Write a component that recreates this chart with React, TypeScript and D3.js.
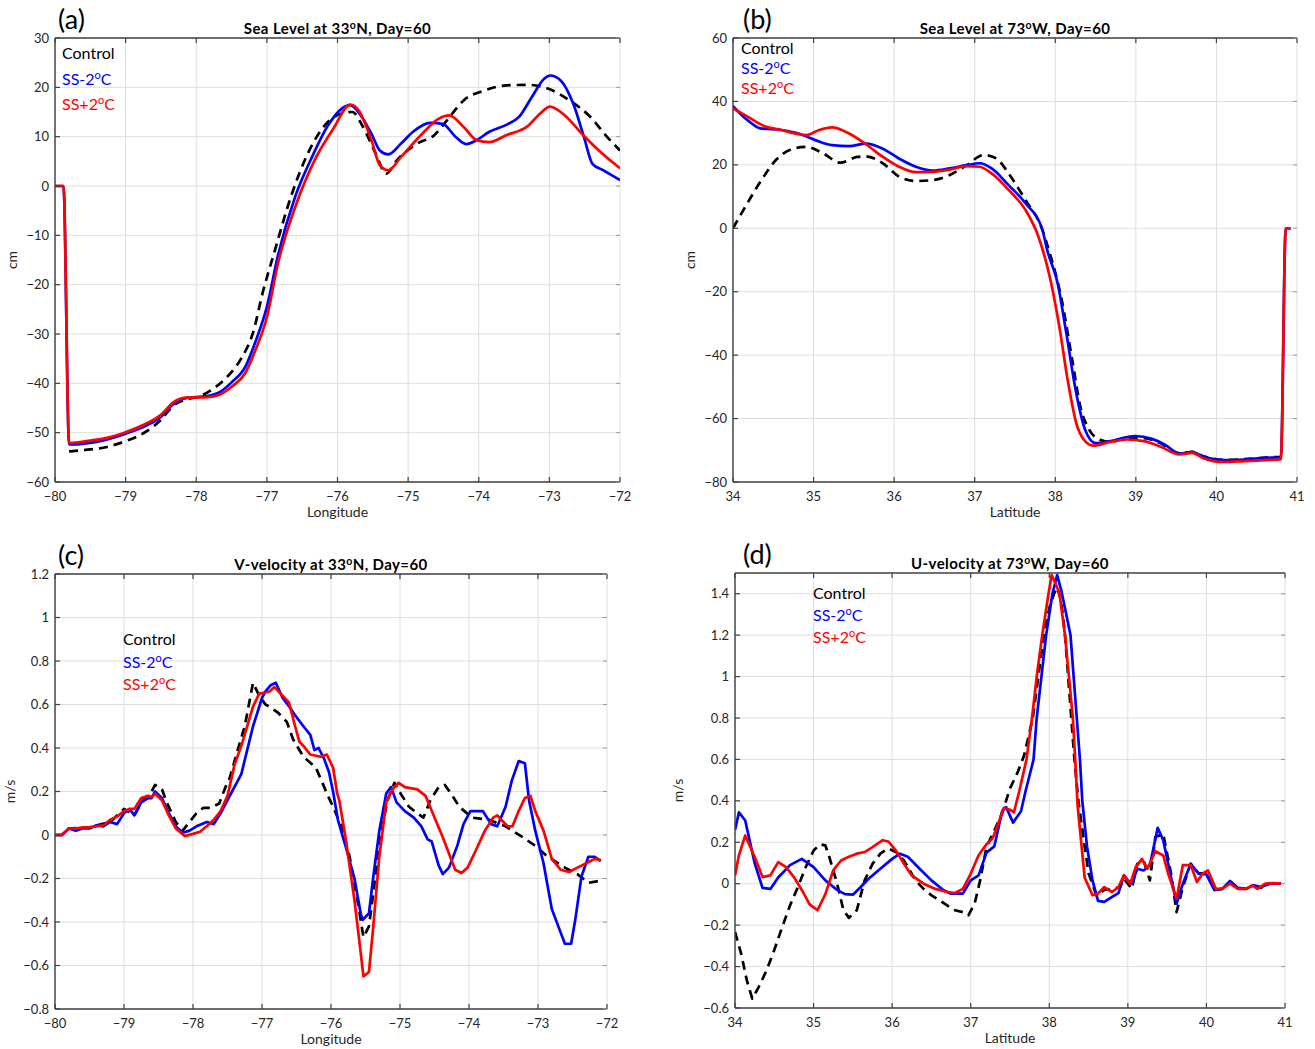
import React, { useRef, useEffect } from "react";
import * as d3 from "d3";

type Pt = [number, number];

// (a) sea level along 33N, x = longitude, y = cm
const seaLonControl: Pt[] = [
  [-79.8, -53.8], [-79.5, -53.4], [-79.3, -53], [-79.0, -51.7], [-78.7, -49.7], [-78.5, -47.4],
  [-78.33, -44.6], [-78.15, -43.3], [-77.95, -42.6], [-77.75, -41], [-77.55, -38.5], [-77.36, -34.9],
  [-77.2, -29.9], [-77.05, -21.1], [-76.9, -13.7], [-76.66, -2.2], [-76.42, 6.6], [-76.18, 12.3],
  [-75.94, 14.7], [-75.79, 15], [-75.64, 12], [-75.46, 6.6], [-75.31, 2.5], [-75.16, 5.2],
  [-74.87, 8.6], [-74.63, 10.3], [-74.45, 13.3], [-74.21, 17.4], [-73.91, 19.4], [-73.61, 20.4],
  [-73.31, 20.5], [-73.01, 19.7], [-72.72, 17.4], [-72.42, 14], [-72.18, 9.9], [-72.0, 7.2],
];
const seaLonMinus: Pt[] = [
  [-80, 0], [-79.88, 0], [-79.8, -52.4], [-79.3, -51.5], [-79.0, -50.2], [-78.7, -48.5],
  [-78.5, -46.8], [-78.33, -44.3], [-78.15, -43.0], [-77.85, -42.6], [-77.67, -41.8], [-77.5, -39.8],
  [-77.3, -36.5], [-77.16, -31.5], [-77.0, -24.5], [-76.84, -13.9], [-76.6, -2.2], [-76.36, 5.9],
  [-76.12, 12.6], [-75.94, 15.7], [-75.82, 16.4], [-75.67, 14.3], [-75.52, 10.6], [-75.4, 7.2],
  [-75.28, 6.4], [-75.1, 8.6], [-74.93, 11], [-74.69, 12.8], [-74.51, 12.6], [-74.33, 10],
  [-74.18, 8.5], [-74.03, 9.3], [-73.85, 11], [-73.61, 12.4], [-73.43, 14], [-73.25, 18],
  [-73.07, 21.8], [-72.99, 22.4], [-72.84, 21.4], [-72.66, 16.6], [-72.51, 9.9], [-72.39, 4.5],
  [-72.24, 3.2], [-72.0, 1.2],
];
const seaLonPlus: Pt[] = [
  [-80, 0], [-79.88, 0], [-79.8, -52.1], [-79.5, -51.6], [-79.28, -51.1], [-79.0, -49.9],
  [-78.7, -48.1], [-78.5, -46.4], [-78.33, -43.9], [-78.15, -42.9], [-77.85, -42.8], [-77.67, -42.3],
  [-77.49, -40.6], [-77.31, -38], [-77.16, -33.2], [-77.0, -26.6], [-76.84, -15.5], [-76.6, -4.3],
  [-76.3, 5.9], [-76.06, 11.6], [-75.82, 16.5], [-75.7, 15.3], [-75.52, 9.3], [-75.4, 4.2],
  [-75.28, 3.2], [-75.1, 5.9], [-74.8, 10.6], [-74.57, 13.6], [-74.42, 14.3], [-74.21, 11.9],
  [-74.03, 9.3], [-73.85, 8.9], [-73.61, 10.3], [-73.31, 12.1], [-73.13, 14.7], [-72.99, 16.1],
  [-72.78, 14.3], [-72.54, 10.6], [-72.3, 7.2], [-72.0, 3.6],
];

// (b) sea level along 73W, x = latitude, y = cm
const seaLatControl: Pt[] = [
  [34.0, 0], [34.13, 5.8], [34.34, 14.7], [34.55, 22], [34.76, 25.2], [34.91, 25.7], [35.12, 23.6],
  [35.33, 20.7], [35.54, 22.5], [35.65, 22.7], [35.86, 20.5], [36.06, 16.3], [36.27, 14.9],
  [36.48, 15.2], [36.69, 16.8], [36.9, 19.9], [37.11, 23.1], [37.27, 22], [37.42, 17.3], [37.63, 8.9],
  [37.84, -0.5], [37.92, -6.9], [38.08, -22.6], [38.21, -41.5], [38.31, -56.1], [38.42, -63.5],
  [38.55, -66.6], [38.68, -67.4], [38.89, -66.1], [39.1, -66.2], [39.31, -67.8], [39.54, -70.9],
  [39.7, -70.5], [39.83, -71.8], [40.09, -73.0], [40.35, -72.8], [40.61, -72.3], [40.8, -72.1],
];
const seaLatMinus: Pt[] = [
  [34.0, 38.5], [34.18, 34.1], [34.34, 31.5], [34.6, 31], [34.81, 29.9], [35.02, 27.8], [35.23, 26.2],
  [35.44, 25.9], [35.65, 26.7], [35.86, 25.1], [36.06, 22], [36.27, 19.4], [36.48, 18.2], [36.69, 18.9],
  [36.9, 19.9], [37.06, 20.5], [37.21, 18.9], [37.42, 13.6], [37.63, 7.9], [37.84, -0.5], [37.9, -6.9],
  [38.03, -17.4], [38.13, -32], [38.26, -52], [38.37, -63.5], [38.5, -67.7], [38.68, -67.1],
  [38.99, -65.5], [39.2, -66.4], [39.36, -68.2], [39.54, -71], [39.7, -70.6], [39.83, -71.9],
  [40.09, -73.1], [40.35, -72.9], [40.61, -72.4], [40.8, -72.2], [40.86, 0], [40.92, 0],
];
const seaLatPlus: Pt[] = [
  [34.0, 37.8], [34.18, 35.2], [34.39, 32.2], [34.6, 31], [34.81, 29.7], [34.91, 29.4], [35.07, 31],
  [35.23, 31.8], [35.44, 29.9], [35.65, 26.5], [35.86, 22.5], [36.06, 19.4], [36.27, 17.7], [36.48, 17.8],
  [36.69, 18.5], [36.9, 19.6], [37.06, 19.4], [37.21, 17.3], [37.42, 12.1], [37.63, 5.8], [37.79, -2.6],
  [37.95, -17.4], [38.05, -31], [38.16, -48.8], [38.26, -61.4], [38.37, -67.1], [38.47, -68.5],
  [38.68, -67.4], [38.89, -66.6], [39.1, -67.1], [39.31, -68.9], [39.54, -71.3], [39.7, -70.8],
  [39.83, -72.4], [40.09, -73.7], [40.35, -73.4], [40.61, -73.1], [40.8, -72.9], [40.86, 0], [40.92, 0],
];

// (c) V-velocity along 33N, m/s
const vLonControl: Pt[] = [
  [-80, 0], [-79.9, 0], [-79.8, 0.03], [-79.5, 0.035], [-79.2, 0.06], [-79.0, 0.12], [-78.85, 0.09],
  [-78.75, 0.15], [-78.6, 0.2], [-78.55, 0.23], [-78.45, 0.21], [-78.38, 0.15], [-78.25, 0.06],
  [-78.15, 0.02], [-78.05, 0.06], [-77.95, 0.1], [-77.85, 0.125], [-77.75, 0.125], [-77.62, 0.145],
  [-77.53, 0.22], [-77.47, 0.26], [-77.38, 0.36], [-77.25, 0.5], [-77.13, 0.7], [-77.04, 0.64],
  [-76.95, 0.6], [-76.89, 0.59], [-76.76, 0.56], [-76.64, 0.52], [-76.55, 0.44], [-76.4, 0.36],
  [-76.22, 0.31], [-76.03, 0.17], [-75.97, 0.13], [-75.85, 0.04], [-75.73, -0.1], [-75.6, -0.33],
  [-75.53, -0.47], [-75.45, -0.42], [-75.36, -0.2], [-75.27, 0.02], [-75.18, 0.16], [-75.08, 0.24],
  [-74.99, 0.19], [-74.87, 0.13], [-74.75, 0.1], [-74.66, 0.08], [-74.56, 0.16], [-74.44, 0.22],
  [-74.35, 0.23], [-74.26, 0.19], [-74.14, 0.13], [-73.96, 0.08], [-73.71, 0.07], [-73.47, 0.04],
  [-73.22, -0.01], [-73.04, -0.05], [-72.86, -0.1], [-72.61, -0.15], [-72.43, -0.18], [-72.27, -0.22],
  [-72.09, -0.21],
];
const vLonMinus: Pt[] = [
  [-80, 0], [-79.9, 0], [-79.8, 0.03], [-79.7, 0.02], [-79.6, 0.03], [-79.5, 0.03], [-79.4, 0.045],
  [-79.3, 0.04], [-79.2, 0.06], [-79.1, 0.05], [-79.0, 0.1], [-78.92, 0.12], [-78.85, 0.09],
  [-78.75, 0.15], [-78.65, 0.17], [-78.6, 0.17], [-78.55, 0.2], [-78.45, 0.17], [-78.35, 0.1],
  [-78.25, 0.04], [-78.15, 0.01], [-78.05, 0.02], [-77.95, 0.04], [-77.8, 0.06], [-77.7, 0.05],
  [-77.6, 0.1], [-77.5, 0.16], [-77.3, 0.28], [-77.13, 0.5], [-77.0, 0.63], [-76.95, 0.66],
  [-76.87, 0.69], [-76.8, 0.7], [-76.7, 0.63], [-76.58, 0.58], [-76.52, 0.55], [-76.4, 0.5],
  [-76.3, 0.46], [-76.24, 0.39], [-76.18, 0.4], [-76.1, 0.35], [-76.03, 0.29], [-75.97, 0.2],
  [-75.9, 0.07], [-75.79, -0.05], [-75.66, -0.2], [-75.57, -0.36], [-75.54, -0.39], [-75.45, -0.36],
  [-75.39, -0.2], [-75.3, 0.02], [-75.2, 0.19], [-75.13, 0.22], [-75.05, 0.15], [-74.93, 0.11],
  [-74.8, 0.08], [-74.69, 0.04], [-74.6, -0.02], [-74.54, -0.03], [-74.44, -0.14], [-74.38, -0.18],
  [-74.29, -0.15], [-74.17, -0.05], [-74.08, 0.05], [-73.98, 0.11], [-73.8, 0.11], [-73.68, 0.05],
  [-73.59, 0.04], [-73.47, 0.13], [-73.38, 0.25], [-73.28, 0.34], [-73.19, 0.33], [-73.13, 0.16],
  [-73.04, 0.02], [-72.92, -0.13], [-72.8, -0.34], [-72.67, -0.45], [-72.61, -0.5], [-72.52, -0.5],
  [-72.46, -0.39], [-72.37, -0.19], [-72.27, -0.1], [-72.18, -0.1], [-72.09, -0.12],
];
const vLonPlus: Pt[] = [
  [-80, 0], [-79.9, 0], [-79.8, 0.03], [-79.7, 0.03], [-79.6, 0.035], [-79.5, 0.035], [-79.4, 0.04],
  [-79.3, 0.045], [-79.2, 0.07], [-79.1, 0.085], [-79.0, 0.11], [-78.9, 0.12], [-78.85, 0.12],
  [-78.75, 0.17], [-78.65, 0.18], [-78.6, 0.175], [-78.55, 0.19], [-78.45, 0.16], [-78.35, 0.09],
  [-78.25, 0.03], [-78.12, -0.005], [-78.0, 0.005], [-77.9, 0.015], [-77.8, 0.04], [-77.7, 0.07],
  [-77.6, 0.11], [-77.5, 0.18], [-77.4, 0.32], [-77.28, 0.43], [-77.13, 0.59], [-77.04, 0.65],
  [-76.95, 0.655], [-76.89, 0.66], [-76.82, 0.68], [-76.73, 0.65], [-76.61, 0.61], [-76.52, 0.5],
  [-76.46, 0.43], [-76.4, 0.41], [-76.3, 0.37], [-76.15, 0.36], [-76.06, 0.37], [-75.97, 0.31],
  [-75.91, 0.19], [-75.88, 0.16], [-75.79, -0.01], [-75.66, -0.3], [-75.57, -0.54], [-75.53, -0.65],
  [-75.45, -0.63], [-75.39, -0.43], [-75.3, -0.1], [-75.2, 0.15], [-75.11, 0.21], [-75.02, 0.24],
  [-74.93, 0.22], [-74.75, 0.21], [-74.63, 0.18], [-74.5, 0.08], [-74.38, -0.01], [-74.26, -0.11],
  [-74.2, -0.16], [-74.11, -0.175], [-74.02, -0.15], [-73.9, -0.07], [-73.77, 0.02], [-73.65, 0.08],
  [-73.59, 0.09], [-73.5, 0.06], [-73.44, 0.04], [-73.37, 0.04], [-73.28, 0.11], [-73.19, 0.17],
  [-73.11, 0.18], [-73.04, 0.11], [-72.92, 0.02], [-72.8, -0.11], [-72.67, -0.16], [-72.55, -0.17],
  [-72.43, -0.15], [-72.3, -0.13], [-72.18, -0.11], [-72.09, -0.115],
];

// (d) U-velocity along 73W, m/s
const uLatControl: Pt[] = [
  [34.0, -0.233], [34.08, -0.34], [34.15, -0.466], [34.22, -0.555], [34.3, -0.5], [34.4, -0.42],
  [34.5, -0.32], [34.6, -0.21], [34.7, -0.105], [34.8, -0.016], [34.9, 0.08], [35.0, 0.16],
  [35.08, 0.19], [35.15, 0.185], [35.2, 0.13], [35.3, 0], [35.38, -0.128], [35.45, -0.165],
  [35.55, -0.128], [35.65, 0.016], [35.75, 0.096], [35.85, 0.145], [35.95, 0.17], [36.05, 0.153],
  [36.15, 0.112], [36.3, 0.016], [36.4, -0.025], [36.5, -0.056], [36.6, -0.08], [36.7, -0.105],
  [36.8, -0.128], [36.9, -0.137], [36.97, -0.153], [37.05, -0.096], [37.12, 0.016], [37.2, 0.177],
  [37.3, 0.257], [37.4, 0.34], [37.5, 0.46], [37.6, 0.54], [37.68, 0.62], [37.79, 0.8], [37.86, 1.0],
  [37.93, 1.2], [38.0, 1.33], [38.06, 1.4], [38.1, 1.43], [38.15, 1.37], [38.2, 1.2], [38.24, 1.0],
  [38.28, 0.8], [38.32, 0.6], [38.37, 0.4], [38.45, 0.18], [38.5, 0.05], [38.6, -0.056], [38.7, -0.03],
  [38.8, -0.025], [38.9, -0.016], [38.95, 0.024], [39.05, -0.025], [39.12, 0.096], [39.2, 0.112],
  [39.28, 0.016], [39.35, 0.225], [39.45, 0.24], [39.55, 0.048], [39.62, -0.137], [39.7, -0.016],
  [39.8, 0.096], [39.9, 0.05], [40.0, 0.05], [40.1, -0.03], [40.2, -0.025], [40.3, 0.01], [40.4, -0.02],
  [40.5, -0.025], [40.6, -0.01], [40.7, -0.02], [40.8, 0], [40.95, 0],
];
const uLatMinus: Pt[] = [
  [34.0, 0.26], [34.05, 0.345], [34.13, 0.305], [34.25, 0.1], [34.35, -0.02], [34.45, -0.025],
  [34.55, 0.03], [34.7, 0.09], [34.85, 0.12], [35.0, 0.08], [35.15, 0.016], [35.3, -0.03], [35.4, -0.05],
  [35.5, -0.053], [35.6, -0.016], [35.7, 0.024], [35.85, 0.072], [36.0, 0.12], [36.1, 0.145],
  [36.2, 0.13], [36.35, 0.072], [36.5, 0.016], [36.65, -0.03], [36.75, -0.048], [36.9, -0.048],
  [37.0, 0.016], [37.1, 0.04], [37.2, 0.15], [37.3, 0.18], [37.4, 0.35], [37.45, 0.37], [37.54, 0.295],
  [37.64, 0.35], [37.7, 0.45], [37.8, 0.6], [37.84, 0.8], [37.9, 1.0], [37.96, 1.2], [38.04, 1.4],
  [38.1, 1.49], [38.15, 1.42], [38.2, 1.33], [38.27, 1.2], [38.31, 1.0], [38.35, 0.8], [38.39, 0.6],
  [38.42, 0.4], [38.48, 0.18], [38.55, 0.016], [38.62, -0.083], [38.7, -0.088], [38.8, -0.064],
  [38.88, -0.045], [38.95, 0.04], [39.0, 0.016], [39.05, 0], [39.12, 0.072], [39.2, 0.064],
  [39.28, 0.088], [39.38, 0.27], [39.45, 0.21], [39.55, 0.03], [39.62, -0.096], [39.7, 0],
  [39.8, 0.096], [39.9, 0.048], [40.0, 0.045], [40.1, -0.03], [40.2, -0.025], [40.3, 0.013],
  [40.4, -0.02], [40.5, -0.025], [40.6, -0.008], [40.7, -0.016], [40.8, 0], [40.95, 0],
];
const uLatPlus: Pt[] = [
  [34.0, 0.04], [34.05, 0.137], [34.13, 0.233], [34.25, 0.13], [34.35, 0.032], [34.45, 0.04],
  [34.55, 0.104], [34.65, 0.08], [34.75, 0.032], [34.85, -0.03], [34.95, -0.1], [35.05, -0.128],
  [35.15, -0.05], [35.25, 0.064], [35.35, 0.112], [35.45, 0.13], [35.55, 0.145], [35.65, 0.153],
  [35.75, 0.177], [35.88, 0.21], [35.95, 0.204], [36.05, 0.16], [36.15, 0.096], [36.25, 0.04],
  [36.4, 0], [36.55, -0.025], [36.7, -0.04], [36.8, -0.045], [36.9, -0.025], [37.0, 0.048],
  [37.1, 0.137], [37.2, 0.19], [37.28, 0.22], [37.35, 0.29], [37.42, 0.366], [37.5, 0.357],
  [37.55, 0.345], [37.62, 0.45], [37.71, 0.6], [37.78, 0.8], [37.84, 1.0], [37.91, 1.2], [37.99, 1.4],
  [38.03, 1.49], [38.08, 1.45], [38.13, 1.4], [38.2, 1.2], [38.25, 1.0], [38.3, 0.8], [38.33, 0.6],
  [38.36, 0.38], [38.45, 0.03], [38.55, -0.056], [38.62, -0.048], [38.7, -0.016], [38.8, -0.04],
  [38.88, -0.016], [38.95, 0.04], [39.03, 0], [39.1, 0.08], [39.18, 0.12], [39.25, 0.072],
  [39.35, 0.157], [39.45, 0.137], [39.52, 0.04], [39.62, -0.072], [39.7, 0.09], [39.8, 0.09],
  [39.88, 0.008], [39.95, 0.048], [40.02, 0.064], [40.12, -0.025], [40.2, -0.025], [40.3, 0],
  [40.4, -0.025], [40.5, -0.025], [40.58, -0.008], [40.65, -0.025], [40.75, 0], [40.85, 0.003], [40.95, 0],
];

// tick values
const lonTicks = [-80, -79, -78, -77, -76, -75, -74, -73, -72];
const latTicks = [34, 35, 36, 37, 38, 39, 40, 41];
const seaLonTicksY = [-60, -50, -40, -30, -20, -10, 0, 10, 20, 30];
const seaLatTicksY = [-80, -60, -40, -20, 0, 20, 40, 60];
const vTicksY = [-0.8, -0.6, -0.4, -0.2, 0, 0.2, 0.4, 0.6, 0.8, 1, 1.2];
const uTicksY = [-0.6, -0.4, -0.2, 0, 0.2, 0.4, 0.6, 0.8, 1, 1.2, 1.4];

const seriesNames = ["Control", "SS-2", "SS+2"];
const seriesColors = ["#000000", "#0000ff", "#ff0000"];

const FONT = "Lato, 'Open Sans', sans-serif";

const panels = [
  {
    tag: "(a)", title: ["Sea Level at 33", "N, Day=60"], xLabel: "Longitude", yLabel: "cm",
    xDomain: [-80, -72], yDomain: [-60, 30], xTicks: lonTicks, yTicks: seaLonTicksY,
    series: [seaLonControl, seaLonMinus, seaLonPlus], smooth: true,
    box: { l: 55, r: 620, t: 38, b: 482 }, tagX: 58, yLabelX: 17, legend: { x: 62, y: 53, dy: 25.5 },
  },
  {
    tag: "(b)", title: ["Sea Level at 73", "W, Day=60"], xLabel: "Latitude", yLabel: "cm",
    xDomain: [34, 41], yDomain: [-80, 60], xTicks: latTicks, yTicks: seaLatTicksY,
    series: [seaLatControl, seaLatMinus, seaLatPlus], smooth: true,
    box: { l: 733, r: 1297, t: 38, b: 482 }, tagX: 743, yLabelX: 695, legend: { x: 741, y: 48, dy: 20 },
  },
  {
    tag: "(c)", title: ["V-velocity at 33", "N, Day=60"], xLabel: "Longitude", yLabel: "m/s",
    xDomain: [-80, -72], yDomain: [-0.8, 1.2], xTicks: lonTicks, yTicks: vTicksY,
    series: [vLonControl, vLonMinus, vLonPlus], smooth: false,
    box: { l: 55, r: 607, t: 574, b: 1009 }, tagX: 58, yLabelX: 15, legend: { x: 123, y: 639, dy: 22.5 },
  },
  {
    tag: "(d)", title: ["U-velocity at 73", "W, Day=60"], xLabel: "Latitude", yLabel: "m/s",
    xDomain: [34, 41], yDomain: [-0.6, 1.5], xTicks: latTicks, yTicks: uTicksY,
    series: [uLatControl, uLatMinus, uLatPlus], smooth: false,
    box: { l: 735, r: 1285, t: 573, b: 1008 }, tagX: 743, yLabelX: 683, legend: { x: 813, y: 593, dy: 22 },
  },
];

const fmt = (v: number) => String(Math.round(v * 10) / 10).replace("-", "\u2212");

const App = () => {
  const svgRef = useRef<SVGSVGElement>(null);

  useEffect(() => {
    const svg = d3.select(svgRef.current);
    svg.selectAll("*").remove();

    panels.forEach((p, pi) => {
      const { l, r, t, b } = p.box;
      const x = d3.scaleLinear().domain(p.xDomain).range([l, r]);
      const y = d3.scaleLinear().domain(p.yDomain).range([b, t]);
      const g = svg.append("g");

      // grid
      g.selectAll(".gx").data(p.xTicks).enter().append("line")
        .attr("x1", (d) => x(d)).attr("x2", (d) => x(d)).attr("y1", t).attr("y2", b)
        .attr("stroke", "#dedede").attr("stroke-width", 1);
      g.selectAll(".gy").data(p.yTicks).enter().append("line")
        .attr("x1", l).attr("x2", r).attr("y1", (d) => y(d)).attr("y2", (d) => y(d))
        .attr("stroke", "#dedede").attr("stroke-width", 1);

      // curves
      const line = d3.line<Pt>()
        .x((d) => x(d[0]))
        .y((d) => y(d[1]))
        .curve(p.smooth ? d3.curveMonotoneX : d3.curveLinear);

      const clipId = `clip-${pi}`;
      g.append("clipPath").attr("id", clipId).append("rect")
        .attr("x", l).attr("y", t - 2).attr("width", r - l).attr("height", b - t + 4);

      p.series.forEach((s, si) => {
        g.append("path")
          .datum(s)
          .attr("clip-path", `url(#${clipId})`)
          .attr("d", line)
          .attr("fill", "none")
          .attr("stroke", seriesColors[si])
          .attr("stroke-width", 2.7)
          .attr("stroke-linejoin", "round")
          .attr("stroke-dasharray", si === 0 ? "9,6" : null);
      });

      // axes lines
      const axisColor = "#404040";
      g.append("line").attr("x1", l).attr("x2", r).attr("y1", b).attr("y2", b)
        .attr("stroke", axisColor).attr("stroke-width", 1.4);
      g.append("line").attr("x1", l).attr("x2", r).attr("y1", t).attr("y2", t)
        .attr("stroke", axisColor).attr("stroke-width", 1.4);
      g.append("line").attr("x1", l).attr("x2", l).attr("y1", t).attr("y2", b)
        .attr("stroke", axisColor).attr("stroke-width", 1.4);

      // ticks
      g.selectAll(".tb").data(p.xTicks).enter().append("line")
        .attr("x1", (d) => x(d)).attr("x2", (d) => x(d)).attr("y1", b).attr("y2", b - 5)
        .attr("stroke", axisColor).attr("stroke-width", 1.2);
      g.selectAll(".tt").data(p.xTicks).enter().append("line")
        .attr("x1", (d) => x(d)).attr("x2", (d) => x(d)).attr("y1", t).attr("y2", t + 5)
        .attr("stroke", axisColor).attr("stroke-width", 1.2);
      g.selectAll(".tl").data(p.yTicks).enter().append("line")
        .attr("x1", l).attr("x2", l + 5).attr("y1", (d) => y(d)).attr("y2", (d) => y(d))
        .attr("stroke", axisColor).attr("stroke-width", 1.2);
      g.selectAll(".tr").data(p.yTicks).enter().append("line")
        .attr("x1", r).attr("x2", r - 4).attr("y1", (d) => y(d)).attr("y2", (d) => y(d))
        .attr("stroke", "#9a9a9a").attr("stroke-width", 1);

      // tick labels
      g.selectAll(".lx").data(p.xTicks).enter().append("text")
        .attr("x", (d) => x(d)).attr("y", b + 19)
        .attr("text-anchor", "middle").attr("font-size", 13).attr("fill", "#262626")
        .attr("font-family", FONT).text((d) => fmt(d));
      g.selectAll(".ly").data(p.yTicks).enter().append("text")
        .attr("x", l - 6).attr("y", (d) => y(d) + 4.5)
        .attr("text-anchor", "end").attr("font-size", 13).attr("fill", "#262626")
        .attr("font-family", FONT).text((d) => fmt(d));

      // axis labels
      g.append("text").attr("x", (l + r) / 2).attr("y", b + 35)
        .attr("text-anchor", "middle").attr("font-size", 14).attr("fill", "#262626")
        .attr("font-family", FONT).text(p.xLabel);
      g.append("text")
        .attr("transform", `translate(${p.yLabelX},${(t + b) / 2}) rotate(-90)`)
        .attr("text-anchor", "middle").attr("font-size", 14).attr("fill", "#262626")
        .attr("font-family", FONT).text(p.yLabel);

      // title with superscript degree
      const title = g.append("text").attr("x", (l + r) / 2).attr("y", t - 4)
        .attr("text-anchor", "middle").attr("font-size", 15).attr("font-weight", "bold")
        .attr("letter-spacing", 0.4).attr("fill", "#000").attr("font-family", FONT);
      title.append("tspan").text(p.title[0]);
      title.append("tspan").attr("dy", -5.5).attr("font-size", 10.5).text("o");
      title.append("tspan").attr("dy", 5.5).text(p.title[1]);

      // panel tag
      g.append("text").attr("x", p.tagX).attr("y", t - 9)
        .attr("font-size", 27).attr("fill", "#000").attr("font-family", FONT).text(p.tag);

      // legend (text only)
      seriesNames.forEach((name, si) => {
        const tx = g.append("text")
          .attr("x", p.legend.x).attr("y", p.legend.y + si * p.legend.dy + 6)
          .attr("font-size", 16).attr("fill", seriesColors[si]).attr("font-family", FONT);
        tx.append("tspan").text(name);
        if (si > 0) {
          tx.append("tspan").attr("dy", -6).attr("font-size", 11).text("o");
          tx.append("tspan").attr("dy", 6).text("C");
        }
      });
    });
  }, []);

  return (
    <div style={{ position: "absolute", left: 0, top: 0 }}>
      <svg ref={svgRef} width={1315} height={1049} style={{ display: "block", background: "#fff" }} />
    </div>
  );
};

export default App;
